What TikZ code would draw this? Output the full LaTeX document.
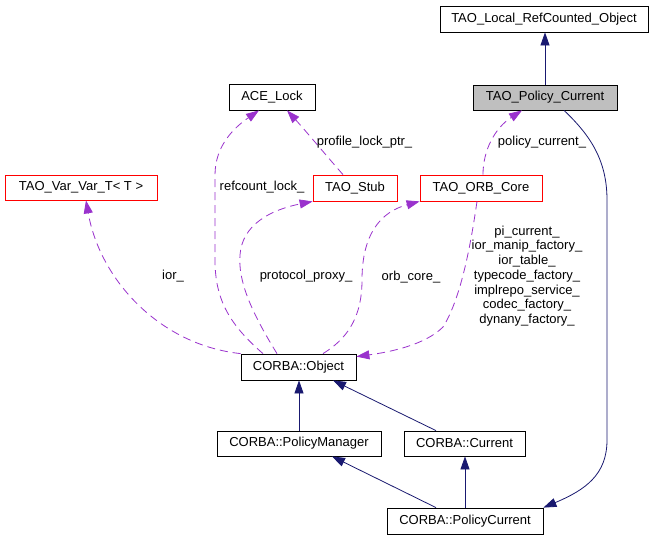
\documentclass[tikz,border=0pt]{standalone}
\usepackage{fontspec}
\setmainfont{Liberation Sans}
\usetikzlibrary{arrows.meta}
\definecolor{edgeblue}{HTML}{191970}
\definecolor{edgepurple}{HTML}{9A32CD}
\definecolor{boxgray}{HTML}{BFBFBF}
\begin{document}
\begin{tikzpicture}[x=1pt,y=-1pt,
  every node/.style={font=\fontsize{13}{14.7}\selectfont, inner sep=0pt},
  cls/.style={draw=black, line width=0.8pt, rectangle, minimum height=26pt},
  redcls/.style={cls, draw=red},
  inherit/.style={draw=edgeblue, line width=0.8pt, -{Triangle[length=13pt,width=9pt]}, fill=none},
  usage/.style={draw=edgepurple, line width=0.8pt, dash pattern=on 8pt off 5pt, -{Triangle[length=13pt,width=9pt]}},
  lbl/.style={align=center}
]
\useasboundingbox (0,0) rectangle (656,539);
\fill[white] (0,0) rectangle (656,539);

\node[cls, minimum width=208pt] (local) at (544,19) {TAO\_Local\_RefCounted\_Object};
\node[cls, fill=boxgray, minimum width=144pt, minimum height=25pt] (tpc) at (545,97.5) {TAO\_Policy\_Current};
\node[cls, minimum width=86pt] (acelock) at (272,97) {ACE\_Lock};
\node[redcls, minimum width=84pt] (stub) at (355,188) {TAO\_Stub};
\node[redcls, minimum width=122pt] (orb) at (481,188) {TAO\_ORB\_Core};
\node[redcls, minimum width=152pt, minimum height=25pt] (varvar) at (81,187.5) {TAO\_Var\_Var\_T< T >};
\node[cls, minimum width=115pt] (obj) at (298.5,367) {CORBA::Object};
\node[cls, minimum width=164pt, minimum height=25pt] (pm) at (299,443.5) {CORBA::PolicyManager};
\node[cls, minimum width=121pt, minimum height=25pt] (cur) at (464.5,443.5) {CORBA::Current};
\node[cls, minimum width=156pt] (pc) at (465,521) {CORBA::PolicyCurrent};

% inheritance
\draw[inherit] (tpc.north) -- (tpc.north |- local.south);
\draw[inherit] ([xshift=19pt]tpc.south) .. controls (590,135) and (607,160) .. (607,200) -- (607,440) .. controls (607,475) and (585,490) .. (pc.north east);
\draw[inherit] (pc.north) -- (pc.north |- cur.south);
\draw[inherit] ([xshift=-29pt]pc.north) -- ([xshift=33pt]pm.south);
\draw[inherit] (pm.north) -- (pm.north |- obj.south);
\draw[inherit] ([xshift=-28.5pt]cur.north) -- ([xshift=34.5pt]obj.south);

% usage
\draw[usage] (obj.north west) .. controls (160,345) and (100,280) .. ([xshift=5pt]varvar.south);
\draw[usage] ([xshift=-35.5pt]obj.north) .. controls (230,325) and (215,300) .. (215,260) -- (215,175) .. controls (215,145) and (235,127) .. ([xshift=-13pt]acelock.south);
\draw[usage] ([xshift=-21.5pt]obj.north) .. controls (250,310) and (238,280) .. (240,255) .. controls (242,225) and (270,210) .. (stub.south west);
\draw[usage] ([xshift=24.5pt]obj.north) .. controls (345,340) and (362,320) .. (362,280) .. controls (362,235) and (380,212) .. (orb.south west);
\draw[usage] ([xshift=-4pt]orb.south) .. controls (470,250) and (460,300) .. (443,327) .. controls (425,345) and (390,352) .. ([yshift=-3pt]obj.north east);
\draw[usage] ([xshift=-12pt]stub.north) .. controls (330,160) and (305,130) .. ([xshift=15pt]acelock.south);
\draw[usage] ([xshift=2pt]orb.north) .. controls (483,150) and (495,128) .. ([xshift=-23pt]tpc.south);

% labels
\node[lbl] (lior) at (173,276) {ior\_};
\node[lbl] (lref) at (262,187) {refcount\_lock\_};
\node[lbl] (lproto) at (306,276) {protocol\_proxy\_};
\node[lbl] (lorb) at (411,277) {orb\_core\_};
\node[lbl] (lprof) at (364.5,142) {profile\_lock\_ptr\_};
\node[lbl] (lpol) at (542,142) {policy\_current\_};
\node[lbl] (lmulti) at (527,276) {pi\_current\_\\ior\_manip\_factory\_\\ior\_table\_\\typecode\_factory\_\\implrepo\_service\_\\codec\_factory\_\\dynany\_factory\_};
\end{tikzpicture}
\end{document}
